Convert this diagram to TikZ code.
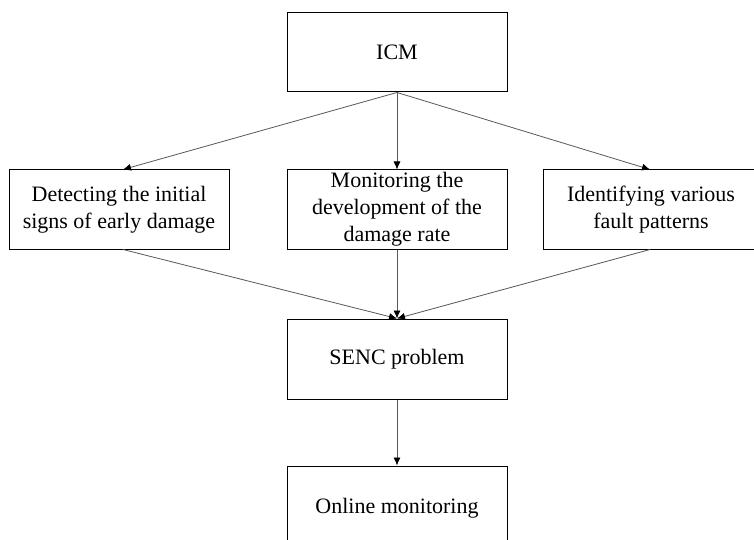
\documentclass[tikz,border=0pt]{standalone}
\usepackage{fontspec}
\setmainfont{Liberation Serif}
\usetikzlibrary{arrows.meta}
\begin{document}
\begin{tikzpicture}[x=1pt,y=-1pt,
  box/.style={draw=black,line width=1pt,rectangle,inner sep=0pt,align=center,
    font=\fontsize{22}{27}\selectfont},
  link/.style={draw=black!65,line width=0.8pt,-{Latex[length=8pt,width=7pt,black]}}]
  \clip (0,0) rectangle (754,540);
  \fill[white] (0,0) rectangle (754,540);
  % top level
  \node[box,minimum width=220pt,minimum height=79pt] (icm) at (397,52.5) {ICM};
  % three tasks
  \node[box,minimum width=220pt,minimum height=79pt] (det) at (119,209.5)
    {Detecting the initial\\signs of early damage};
  \node[box,minimum width=220pt,minimum height=79pt] (mon) at (397,209.5)
    {Monitoring the\\development of the\\damage rate};
  \node[box,minimum width=216pt,minimum height=79pt] (ide) at (651,209.5)
    {Identifying various\\fault patterns};
  % problem and outcome
  \node[box,minimum width=220pt,minimum height=80pt] (senc) at (397,359)
    {SENC problem};
  \node[box,minimum width=220pt,minimum height=84pt] (onl) at (397,508)
    {Online monitoring};
  % connectors
  \draw[link] (icm.south) -- ([xshift=4pt]det.north);
  \draw[link] (icm.south) -- (mon.north);
  \draw[link] (icm.south) -- ([xshift=-1pt]ide.north);
  \draw[link] ([xshift=4pt]det.south) -- (senc.north);
  \draw[link] (mon.south) -- (senc.north);
  \draw[link] ([xshift=-1pt]ide.south) -- (senc.north);
  \draw[link] (senc.south) -- (onl.north);
\end{tikzpicture}
\end{document}
